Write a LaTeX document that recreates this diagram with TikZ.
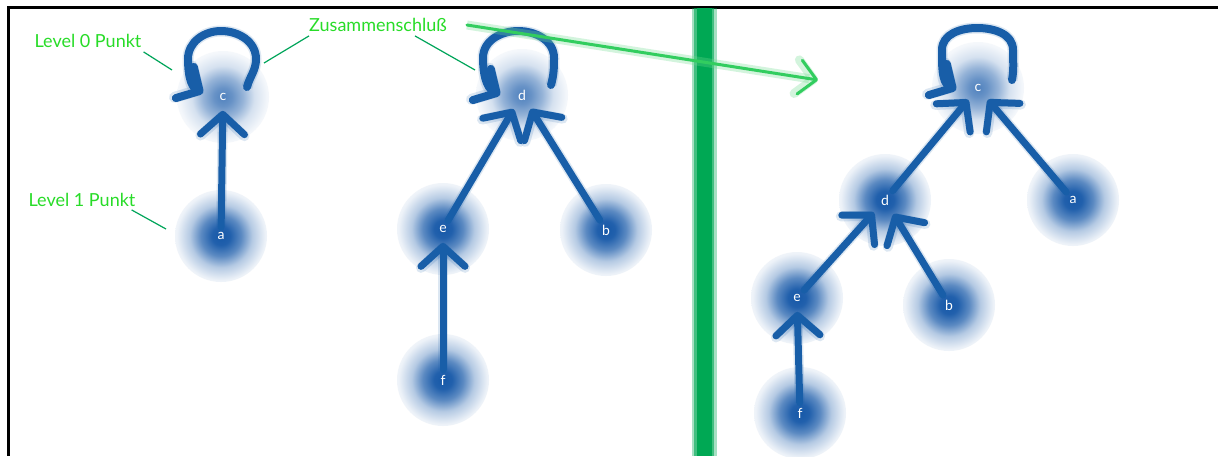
\documentclass[tikz,border=0pt]{standalone}
\usepackage{fontspec}
\setmainfont{Lato}
\newfontfamily\lblfont{Lato}
\usetikzlibrary{arrows.meta}
\definecolor{tblue}{RGB}{24,94,168}
\definecolor{glowblue}{RGB}{22,88,168}
\definecolor{lblgreen}{RGB}{40,220,40}
\definecolor{linegreen}{RGB}{0,165,90}
\definecolor{bargreen}{RGB}{0,168,84}
\definecolor{arrgreen}{RGB}{50,205,95}
\pgfdeclareradialshading{nodeglow}{\pgfpointorigin}{color(0bp)=(glowblue); color(5bp)=(glowblue!95!white); color(11bp)=(glowblue!70!white); color(17bp)=(glowblue!32!white); color(24bp)=(glowblue!8!white); color(30bp)=(white); color(50bp)=(white)}
\pgfdeclareradialshading{rootglow}{\pgfpointorigin}{color(0bp)=(glowblue!75!white); color(5bp)=(glowblue!65!white); color(11bp)=(glowblue!45!white); color(17bp)=(glowblue!18!white); color(24bp)=(glowblue!5!white); color(30bp)=(white); color(50bp)=(white)}
\tikzset{
  x=1pt, y=1pt,
  pt/.style={text=white, font=\lblfont\fontsize{14}{16}\selectfont, inner sep=1pt},
  glow/.style={shading=nodeglow},
  rglow/.style={shading=rootglow},
  link/.style={draw=tblue, line width=7pt, line cap=round,
    -{Straight Barb[length=20pt,width=44pt,round]}, shorten >=9pt, shorten <=4pt,
    preaction={draw=tblue, draw opacity=0.15, line width=10pt}},
  loopst/.style={draw=tblue, line width=8pt, line cap=round,
    -{Straight Barb[length=17pt,width=36pt,round]},
    preaction={draw=tblue, draw opacity=0.15, line width=11pt}},
  lbl/.style={text=lblgreen, font=\lblfont\fontsize{18}{20}\selectfont, inner sep=0pt},
  lblline/.style={draw=linegreen, line width=1.2pt},
  greenarrow/.style={draw=arrgreen, line width=3pt, line cap=round,
    -{Straight Barb[length=17pt,width=34pt,round]},
    preaction={draw=arrgreen!70, draw opacity=0.3, line width=9pt}},
}
\begin{document}
\begin{tikzpicture}
\useasboundingbox (0,0) rectangle (1218,-456);
\fill[white] (0,0) rectangle (1218,-456);
% frame
\draw[black, line width=3pt] (7,-7) -- (1218,-7);
\draw[black, line width=3pt] (8,-7) -- (8,-456);

% glow positions (node centres)
\coordinate (gc1) at (223,-97);
\coordinate (ga1) at (221,-236);
\coordinate (gd2) at (522,-95);
\coordinate (ge2) at (443,-229);
\coordinate (gb2) at (606,-230);
\coordinate (gf2) at (443,-380);
\coordinate (gc3) at (978,-88);
\coordinate (gd3) at (885,-200);
\coordinate (ga3) at (1073,-200);
\coordinate (ge3) at (797,-298);
\coordinate (gb3) at (949,-305);
\coordinate (gf3) at (800,-413);
\foreach \n in {ga1,ge2,gb2,gf2,gd3,ga3,ge3,gb3,gf3}{\shade[glow] (\n) circle (46pt);}
\foreach \n in {gc1,gd2,gc3}{\shade[rglow] (\n) circle (46pt);}

% nodes
\node[pt] (c1) at (gc1) {c};
\node[pt] (a1) at (ga1) {a};
\node[pt] (d2) at (gd2) {d};
\node[pt] (e2) at (ge2) {e};
\node[pt] (b2) at (gb2) {b};
\node[pt] (f2) at (gf2) {f};
\node[pt] (c3) at (gc3) {c};
\node[pt] (d3) at (gd3) {d};
\node[pt] (a3) at (ga3) {a};
\node[pt] (e3) at (ge3) {e};
\node[pt] (b3) at (gb3) {b};
\node[pt] (f3) at (gf3) {f};

% green divider
\draw[bargreen, opacity=0.35, line width=25pt] (704,-8) -- (704,-456);
\draw[bargreen, opacity=0.6, line width=20pt] (704,-8) -- (704,-456);
\draw[bargreen, line width=15pt] (704,-8) -- (704,-456);

% tree edges
\draw[link] (a1) -- (c1);
\draw[link] (e2) -- (d2);
\draw[link] (b2) -- (d2);
\draw[link] (f2) -- (e2);
\draw[link] (d3) -- (c3);
\draw[link] (a3) -- (c3);
\draw[link] (e3) -- (d3);
\draw[link] (b3) -- (d3);
\draw[link] (f3) -- (e3);

% self loops of roots
\draw[loopst] ([shift={(24,10)}]c1.center) to[out=75,in=-90] ([shift={(33,38)}]c1.center)
  to[out=90,in=0] ([shift={(-2,66)}]c1.center) to[out=180,in=90] ([shift={(-35,38)}]c1.center)
  to[out=-90,in=150] ([shift={(-20,4)}]c1.center);
\draw[loopst] ([shift={(29,10)}]d2.center) to[out=75,in=-90] ([shift={(32,37)}]d2.center)
  to[out=90,in=0] ([shift={(-4,64)}]d2.center) to[out=180,in=90] ([shift={(-39,37)}]d2.center)
  to[out=-90,in=150] ([shift={(-22,0)}]d2.center);
\draw[loopst] ([shift={(34,8)}]c3.center) to[out=80,in=-90] ([shift={(35,38)}]c3.center)
  to[out=90,in=0] ([shift={(-1,60)}]c3.center) to[out=180,in=90] ([shift={(-36,38)}]c3.center)
  to[out=-90,in=150] ([shift={(-22,-2)}]c3.center);

% labels
\node[lbl] (lbl0) at (88,-41) {Level 0 Punkt};
\node[lbl] (lbl1) at (82,-200) {Level 1 Punkt};
\node[lbl] (lblz) at (378,-25) {Zusammenschluß};
\coordinate (p0) at (172,-70);
\coordinate (p1) at (166,-229);
\coordinate (pz1) at (264,-63);
\coordinate (pz2) at (475,-70);
\coordinate (arrend) at (818,-80);
\draw[lblline] ([shift={(2,-4)}]lbl0.south east) -- (p0);
\draw[lblline] ([shift={(-4,-3)}]lbl1.south east) -- (p1);
\draw[lblline] ([shift={(0,-4)}]lblz.south west) -- (pz1);
\draw[lblline] ([shift={(-32,-4)}]lblz.south east) -- (pz2);
\draw[greenarrow] ([shift={(20,0)}]lblz.east) -- (arrend);
\end{tikzpicture}
\end{document}
